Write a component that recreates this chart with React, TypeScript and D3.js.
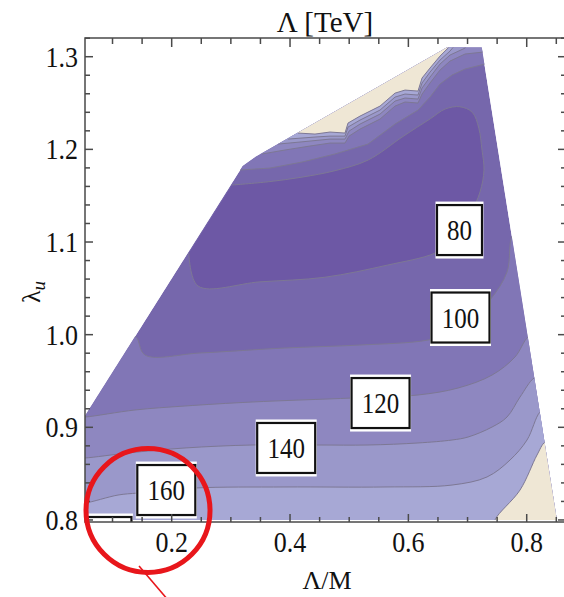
import * as d3 from "d3";

type P = [number, number];

const width = 564;
const height = 597;
const frame = { left: 85, right: 565, top: 38, bottom: 522 };

const xScale = d3.scaleLinear().domain([0.0535, 0.8647]).range([frame.left, frame.right]);
const yScale = d3.scaleLinear().domain([0.7978, 1.3202]).range([frame.bottom, frame.top]);

const xTickLabels = [0.2, 0.4, 0.6, 0.8];
const yTickLabels = [0.8, 0.9, 1.0, 1.1, 1.2, 1.3];

// allowed parameter region (Λ/M, λu)
const region: P[] = [
  [0.053, 0.8], [0.053, 0.912], [0.32, 1.182], [0.342, 1.192],
  [0.665, 1.31], [0.724, 1.31], [0.851, 0.8],
];

// fill colours for bands <80, 80-100, 100-120, 120-140, 140-160, 160-180, >180
const bandFills = ["#6d58a5", "#7667ac", "#8176b6", "#8e87c0", "#9a98ca", "#a7a8d5", "#efe7d5"];

// Λ = 80 TeV contour around the minimum
const level80: P[] = [
  [0.229, 1.088], [0.2445, 1.0525], [0.349, 1.057], [0.459, 1.062], [0.564, 1.075],
  [0.645, 1.088], [0.679, 1.102], [0.704, 1.129], [0.7211, 1.154], [0.7278, 1.1777],
  [0.7245, 1.199], [0.719, 1.223], [0.708, 1.24], [0.687, 1.246], [0.662, 1.2435],
  [0.637, 1.233], [0.591, 1.214], [0.532, 1.1885], [0.476, 1.177], [0.42, 1.17],
  [0.363, 1.165], [0.302, 1.1615],
];

// contours in the upper (steep) part
const upper100: P[] = [
  [0.3155, 1.1777], [0.3662, 1.1798], [0.4203, 1.1863], [0.476, 1.195], [0.5318, 1.2057],
  [0.5774, 1.2273], [0.6163, 1.2424], [0.6366, 1.2564], [0.6535, 1.2705], [0.6738, 1.2802],
  [0.6957, 1.2867], [0.7295, 1.2921], [0.74, 1.2921],
];
const upper120: P[] = [
  [0.3527, 1.195], [0.3915, 1.1993], [0.4338, 1.2036], [0.4676, 1.2068], [0.4929, 1.2068],
  [0.4997, 1.2143], [0.5183, 1.2219], [0.5521, 1.2327], [0.5774, 1.2467], [0.5943, 1.2511],
  [0.6163, 1.25], [0.6231, 1.2597], [0.6366, 1.2716], [0.6535, 1.2856], [0.6704, 1.2953],
  [0.6957, 1.3029], [0.7262, 1.305], [0.74, 1.305],
];
const upper140: P[] = [
  [0.3797, 1.2057], [0.4169, 1.2079], [0.4676, 1.2111], [0.4929, 1.2111], [0.4997, 1.2197],
  [0.5183, 1.2273], [0.5521, 1.2381], [0.5774, 1.2521], [0.5943, 1.2554], [0.6163, 1.2543],
  [0.6231, 1.2662], [0.6366, 1.278], [0.6535, 1.2921], [0.6704, 1.3018], [0.6957, 1.3093],
  [0.7, 1.315],
];
const upper160: P[] = [
  [0.3966, 1.2111], [0.4422, 1.2133], [0.4676, 1.2143], [0.4929, 1.2143], [0.498, 1.2241],
  [0.5183, 1.2316], [0.5521, 1.2424], [0.5774, 1.2564], [0.5943, 1.2597], [0.6163, 1.2586],
  [0.6231, 1.2716], [0.6366, 1.2834], [0.6535, 1.2964], [0.6704, 1.3061], [0.682, 1.315],
];
const upper180: P[] = [
  [0.4135, 1.2176], [0.4422, 1.2165], [0.4676, 1.2187], [0.4929, 1.2176], [0.498, 1.2284],
  [0.5183, 1.2359], [0.5521, 1.2467], [0.5774, 1.2607], [0.5943, 1.264], [0.6163, 1.2629],
  [0.6231, 1.277], [0.6366, 1.2878], [0.6535, 1.3007], [0.6687, 1.3104], [0.671, 1.315],
];

// contours in the lower part
const lower100: P[] = [
  [0.125, 0.9974], [0.1397, 0.9974], [0.1549, 0.978], [0.2479, 0.9802], [0.3915, 0.9856],
  [0.5183, 0.9888], [0.6332, 0.9942], [0.6873, 1.005], [0.738, 1.0374], [0.7667, 1.0676],
  [0.7752, 1.1064], [0.785, 1.11],
];
const lower120: P[] = [
  [0.04, 0.9111], [0.0535, 0.9111], [0.138, 0.9187], [0.2225, 0.923], [0.3357, 0.9273],
  [0.5048, 0.9316], [0.6163, 0.9349], [0.6839, 0.9424], [0.7414, 0.9564], [0.7802, 0.9759],
  [0.8022, 0.9974], [0.815, 1.0],
];
const lower140: P[] = [
  [0.04, 0.8669], [0.0535, 0.8669], [0.1262, 0.8723], [0.2225, 0.8777], [0.3357, 0.8809],
  [0.4473, 0.8809], [0.5318, 0.8809], [0.6163, 0.8831], [0.6738, 0.8863], [0.7008, 0.8895],
  [0.7414, 0.9003], [0.7667, 0.9111], [0.7887, 0.9327], [0.8124, 0.9532], [0.825, 0.955],
];
const lower160: P[] = [
  [0.04, 0.8183], [0.0535, 0.8183], [0.1093, 0.8269], [0.1431, 0.8291], [0.2394, 0.8345],
  [0.3915, 0.8356], [0.5605, 0.8356], [0.6738, 0.8377], [0.7329, 0.8464], [0.7718, 0.8647],
  [0.8005, 0.8863], [0.8225, 0.9165], [0.835, 0.92],
];
const lower180: P[] = [
  [0.745, 0.79], [0.7464, 0.8], [0.7887, 0.8323], [0.8174, 0.8701], [0.8309, 0.8841], [0.845, 0.886],
];

const contourLabels = [
  { text: "80", x: 0.6864, y: 1.1129 },
  { text: "100", x: 0.6881, y: 1.0185 },
  { text: "120", x: 0.553, y: 0.9262 },
  { text: "140", x: 0.3935, y: 0.8777 },
  { text: "160", x: 0.1909, y: 0.8323 },
  { text: "180", x: 0.083, y: 0.7762 },
];

// red annotation drawn over the figure
const markCircle = { x: 0.16, y: 0.8102, r: 62 };
const markLine: P[] = [[0.1448, 0.7503], [0.1938, 0.7136]];

const serif = "'Liberation Serif', 'DejaVu Serif', serif";

const px = (p: P) => `${xScale(p[0])},${yScale(p[1])}`;
const straight = d3.line<P>().x((d) => xScale(d[0])).y((d) => yScale(d[1]));
const smooth = d3.line<P>().x((d) => xScale(d[0])).y((d) => yScale(d[1])).curve(d3.curveCatmullRom);

function bandPath(pts: P[], above: boolean, gen: d3.Line<P>) {
  const s = pts[0];
  const e = pts[pts.length - 1];
  const yEnd = above ? 1.4 : 0.7;
  const close: P[] = [[e[0] + 0.1, e[1]], [e[0] + 0.1, yEnd], [-0.1, yEnd], [-0.1, s[1]]];
  return gen(pts) + close.map((p) => "L" + px(p)).join("") + "Z";
}

const upperLines = [upper100, upper120, upper140, upper160, upper180];
const lowerLines = [lower100, lower120, lower140, lower160, lower180];

function App() {
  const xMinor = xScale.ticks(16);
  const yMinor = yScale.ticks(26);
  const isMajorX = (v: number) => xTickLabels.some((t) => Math.abs(t - v) < 1e-6);
  const isMajorY = (v: number) => yTickLabels.some((t) => Math.abs(t - v) < 1e-6);
  const lineStroke = "#7d7894";

  return (
    <svg width={width} height={height} style={{ display: "block", position: "absolute", left: 0, top: 0 }}>
      <defs>
        <clipPath id="frameClip">
          <rect x={frame.left} y={frame.top} width={frame.right - frame.left} height={frame.bottom - frame.top} />
        </clipPath>
        <clipPath id="regionClip">
          <path d={straight(region) + "Z"} />
        </clipPath>
      </defs>
      <rect width={width} height={height} fill="white" />

      <g clipPath="url(#frameClip)">
        <g clipPath="url(#regionClip)">
          <path d={straight(region) + "Z"} fill={bandFills[1]} />
          {upperLines.map((pts, i) => (
            <path key={"ua" + i} d={bandPath(pts, true, straight)} fill={bandFills[i + 2]} />
          ))}
          {lowerLines.map((pts, i) => (
            <path key={"la" + i} d={bandPath(pts, false, smooth)} fill={bandFills[i + 2]} />
          ))}
          <path d={smooth(level80) + "Z"} fill={bandFills[0]} />
          <path d={smooth(level80) ?? ""} fill="none" stroke={lineStroke} strokeWidth={1} />
          {upperLines.map((pts, i) => (
            <path key={"ul" + i} d={straight(pts) ?? ""} fill="none" stroke={lineStroke} strokeWidth={1} />
          ))}
          {lowerLines.map((pts, i) => (
            <path key={"ll" + i} d={smooth(pts) ?? ""} fill="none" stroke={lineStroke} strokeWidth={1} />
          ))}
        </g>

        {contourLabels.map((l) => {
          const cx = xScale(l.x);
          const cy = yScale(l.y);
          const w = 13 * l.text.length + 19;
          const h = 50;
          return (
            <g key={l.text}>
              <rect x={cx - w / 2 - 1.5} y={cy - h / 2 - 3.5} width={w + 3} height={h + 7} fill="white" />
              <rect x={cx - w / 2} y={cy - h / 2} width={w} height={h} fill="white" stroke="#111" strokeWidth={2.2} />
              <text
                transform={`translate(${cx},${cy}) scale(1,1.15)`}
                textAnchor="middle"
                dy="0.35em"
                fontFamily={serif}
                fontSize={25}
                fill="#111"
              >
                {l.text}
              </text>
            </g>
          );
        })}
      </g>

      {/* frame */}
      <g stroke="#4a4a4a" strokeWidth={1.5} fill="none">
        <rect x={frame.left} y={frame.top} width={frame.right - frame.left} height={frame.bottom - frame.top} />
        {xMinor.map((v) => {
          const x = xScale(v);
          const len = isMajorX(v) ? 8 : 5;
          return (
            <g key={"xt" + v}>
              <line x1={x} x2={x} y1={frame.bottom} y2={frame.bottom - len} />
              <line x1={x} x2={x} y1={frame.top} y2={frame.top + len + 1} />
            </g>
          );
        })}
        {yMinor.map((v) => {
          const y = yScale(v);
          const len = isMajorY(v) ? 8 : 5;
          return (
            <g key={"yt" + v}>
              <line x1={frame.left} x2={frame.left + len} y1={y} y2={y} />
              <line x1={frame.right} x2={frame.right - len + 1} y1={y} y2={y} />
            </g>
          );
        })}
      </g>

      {/* tick labels */}
      <g fontFamily={serif} fontSize={26} fill="#111">
        {xTickLabels.map((v) => (
          <text key={"xl" + v} transform={`translate(${xScale(v)},552) scale(1,1.1)`} textAnchor="middle">
            {d3.format(".1f")(v)}
          </text>
        ))}
        {yTickLabels.map((v) => (
          <text key={"yl" + v} transform={`translate(78,${yScale(v)}) scale(1,1.1)`} textAnchor="end" dy="0.35em">
            {d3.format(".1f")(v)}
          </text>
        ))}
      </g>

      <text x={(frame.left + frame.right) / 2} y={32} textAnchor="middle" fontFamily={serif} fontSize={29} fill="#111">
        Λ [TeV]
      </text>
      <text x={327} y={589} textAnchor="middle" fontFamily={serif} fontSize={26} fill="#111">
        Λ/M
      </text>
      <text transform="translate(40,292) rotate(-90)" textAnchor="middle" fontFamily={serif} fontSize={26} fill="#111">
        λ
        <tspan fontStyle="italic" fontSize={19} dy={5}>
          u
        </tspan>
      </text>

      {/* red annotation */}
      <circle
        cx={xScale(markCircle.x)}
        cy={yScale(markCircle.y)}
        r={markCircle.r}
        fill="none"
        stroke="#e8161b"
        strokeWidth={5}
      />
      <path d={straight(markLine) ?? ""} stroke="#e8161b" strokeWidth={1.6} fill="none" />
    </svg>
  );
}

export default App;
